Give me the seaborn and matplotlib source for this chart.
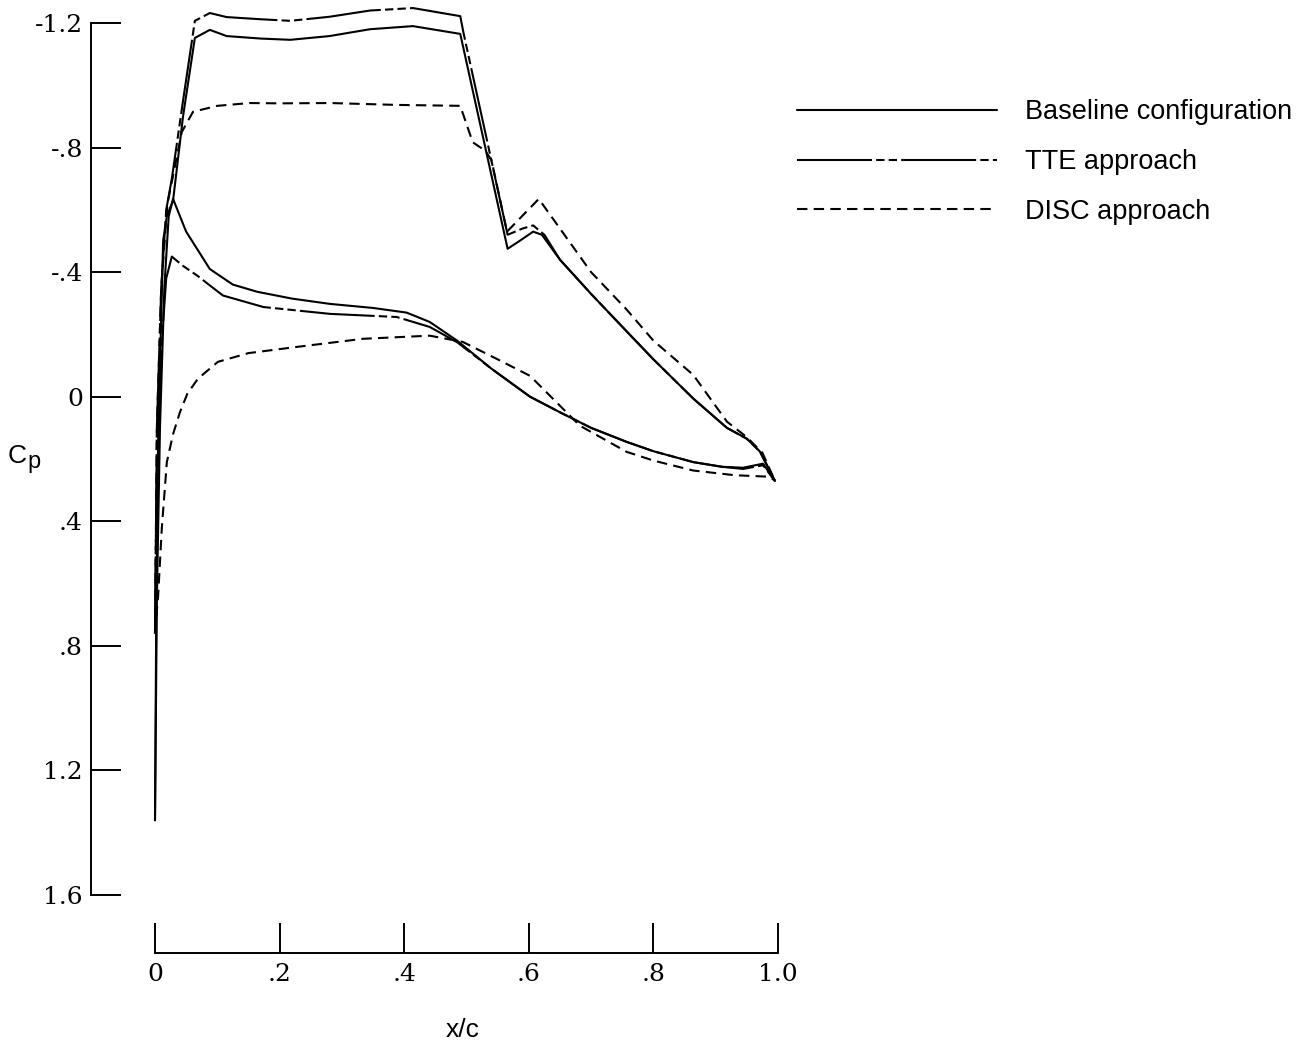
import numpy as np
import pandas as pd
import matplotlib
matplotlib.use("Agg")
import matplotlib.pyplot as plt
import seaborn as sns

# ---------------- data (x/c, Cp) ----------------
series_names = ["Baseline configuration", "TTE approach", "DISC approach"]

base_up_x = [0.0, 0.002, 0.005, 0.013, 0.019, 0.029, 0.045, 0.064, 0.088, 0.115, 0.17, 0.217,
             0.28, 0.345, 0.414, 0.49, 0.566, 0.585, 0.607, 0.621, 0.65, 0.70, 0.757, 0.80,
             0.864, 0.918, 0.95, 0.971, 0.995]
base_up_cp = [1.36, 0.70, 0.15, -0.50, -0.58, -0.63, -0.90, -1.152, -1.178, -1.158, -1.150, -1.146,
              -1.158, -1.18, -1.19, -1.165, -0.475, -0.50, -0.53, -0.52, -0.44, -0.33, -0.21, -0.12,
              0.006, 0.10, 0.135, 0.176, 0.27]

base_lo_x = [0.0, 0.003, 0.008, 0.015, 0.022, 0.029, 0.05, 0.088, 0.125, 0.164, 0.22, 0.281,
             0.35, 0.404, 0.441, 0.485, 0.54, 0.602, 0.65, 0.70, 0.757, 0.80, 0.864, 0.91,
             0.944, 0.976, 0.995]
base_lo_cp = [1.36, 0.65, 0.10, -0.35, -0.58, -0.635, -0.53, -0.41, -0.36, -0.337, -0.315, -0.298,
              -0.285, -0.27, -0.24, -0.18, -0.09, 0.00, 0.05, 0.10, 0.145, 0.175, 0.21, 0.225,
              0.228, 0.215, 0.27]

tte_up_x = [0.0, 0.003, 0.010, 0.018, 0.027, 0.045, 0.064, 0.088, 0.115, 0.17, 0.217, 0.28,
            0.345, 0.414, 0.49, 0.495, 0.566, 0.59, 0.607, 0.625, 0.65, 0.70, 0.757, 0.80,
            0.864, 0.918, 0.95, 0.971, 0.995]
tte_up_cp = [0.76, 0.10, -0.35, -0.60, -0.70, -0.95, -1.207, -1.232, -1.219, -1.212, -1.207, -1.22,
             -1.24, -1.248, -1.222, -1.17, -0.52, -0.54, -0.55, -0.52, -0.44, -0.33, -0.21, -0.12,
             0.006, 0.10, 0.135, 0.176, 0.27]

tte_lo_x = [0.0, 0.003, 0.010, 0.018, 0.027, 0.045, 0.067, 0.109, 0.174, 0.281, 0.388, 0.441,
            0.485, 0.54, 0.602, 0.65, 0.70, 0.757, 0.80, 0.864, 0.91, 0.944, 0.976, 0.995]
tte_lo_cp = [0.76, 0.25, -0.15, -0.38, -0.45, -0.42, -0.39, -0.325, -0.288, -0.266, -0.256, -0.224,
             -0.175, -0.09, 0.00, 0.05, 0.10, 0.145, 0.175, 0.21, 0.225, 0.232, 0.22, 0.27]

disc_up_x = [0.0, 0.003, 0.010, 0.020, 0.030, 0.043, 0.061, 0.10, 0.152, 0.20, 0.281, 0.388,
             0.49, 0.51, 0.53, 0.54, 0.565, 0.616, 0.65, 0.70, 0.757, 0.80, 0.864, 0.918,
             0.95, 0.975, 0.995]
disc_up_cp = [0.76, 0.10, -0.35, -0.62, -0.72, -0.85, -0.915, -0.934, -0.943, -0.942, -0.943, -0.937,
              -0.934, -0.817, -0.79, -0.76, -0.53, -0.635, -0.54, -0.40, -0.28, -0.18, -0.07, 0.08,
              0.13, 0.18, 0.27]

disc_lo_x = [0.0, 0.005, 0.011, 0.019, 0.029, 0.040, 0.052, 0.069, 0.101, 0.15, 0.228, 0.334,
             0.441, 0.494, 0.55, 0.602, 0.682, 0.757, 0.80, 0.864, 0.93, 0.987, 0.995]
disc_lo_cp = [0.76, 0.64, 0.42, 0.21, 0.12, 0.05, -0.01, -0.058, -0.112, -0.14, -0.16, -0.186,
              -0.196, -0.176, -0.12, -0.067, 0.093, 0.177, 0.205, 0.237, 0.252, 0.257, 0.27]

y_ticks = [-1.2, -0.8, -0.4, 0.0, 0.4, 0.8, 1.2, 1.6]
y_tick_labels = ["-1.2", "-.8", "-.4", "0", ".4", ".8", "1.2", "1.6"]
x_ticks = [0.0, 0.2, 0.4, 0.6, 0.8, 1.0]
x_tick_labels = ["0", ".2", ".4", ".6", ".8", "1.0"]

# ---------------- build long table ----------------
frames = []
for name, surf, xs, cps in [
    (series_names[0], "upper", base_up_x, base_up_cp),
    (series_names[0], "lower", base_lo_x, base_lo_cp),
    (series_names[1], "upper", tte_up_x, tte_up_cp),
    (series_names[1], "lower", tte_lo_x, tte_lo_cp),
    (series_names[2], "upper", disc_up_x, disc_up_cp),
    (series_names[2], "lower", disc_lo_x, disc_lo_cp),
]:
    frames.append(pd.DataFrame({"x": xs, "Cp": cps, "series": name, "surface": surf}))
df = pd.concat(frames, ignore_index=True)

# ---------------- style ----------------
sns.set_style("white")
plt.rcParams["font.family"] = ["Liberation Sans", "DejaVu Sans"]
plt.rcParams["text.color"] = "black"

W, H = 1310, 1046
fig = plt.figure(figsize=(W / 100, H / 100), dpi=100)
ax = fig.add_axes([155 / W, 1 - 895 / H, (778 - 155) / W, (895 - 23) / H])

dash_map = {
    series_names[0]: "",
    series_names[1]: (36, 2, 4, 2, 4, 2),
    series_names[2]: (5, 3),
}

sns.lineplot(data=df, x="x", y="Cp", style="series", units="surface",
             style_order=series_names, dashes=dash_map, estimator=None, sort=False,
             color="black", linewidth=1.5, ax=ax, legend=True, clip_on=False)

ax.set_xlim(0, 1)
ax.set_ylim(1.6, -1.2)

for s in ["top", "right"]:
    ax.spines[s].set_visible(False)
ax.spines["left"].set_position(("outward", 46))
ax.spines["left"].set_bounds(-1.2, 1.6)
ax.spines["bottom"].set_position(("outward", 41.8))
ax.spines["bottom"].set_bounds(0, 1)
for s in ["left", "bottom"]:
    ax.spines[s].set_linewidth(1.4)
    ax.spines[s].set_color("black")

ax.set_yticks(y_ticks)
ax.set_yticklabels(y_tick_labels, family="DejaVu Serif", fontsize=18)
ax.set_xticks(x_ticks)
ax.set_xticklabels(x_tick_labels, family="DejaVu Serif", fontsize=18)
ax.tick_params(axis="both", direction="in", length=21.6, width=1.4, color="black",
               labelcolor="black")
ax.tick_params(axis="y", pad=6, left=True)
ax.tick_params(axis="x", pad=7, bottom=True)
ax.set_xlabel("")
ax.set_ylabel("")

# axis titles
fig.text(8 / W, 1 - 463 / H, "C", fontsize=19, ha="left", va="baseline", color="black")
fig.text(27 / W, 1 - 468 / H, "p", fontsize=17, ha="left", va="baseline", color="black")
fig.text(463 / W, 1 - 1030 / H, "x/c", fontsize=19, ha="center", va="center",
         color="black")

# legend
handles, labels = ax.get_legend_handles_labels()
if ax.get_legend() is not None:
    ax.get_legend().remove()
leg = fig.legend(handles, labels, loc="center left",
                 bbox_to_anchor=(797 / W, 1 - 162 / H), frameon=False,
                 fontsize=19.5, handlelength=7.38, handletextpad=1.03,
                 labelspacing=0.88, borderpad=0, borderaxespad=0)
for ln in leg.get_lines():
    ln.set_color("black")
    ln.set_linewidth(1.5)
for t in leg.get_texts():
    t.set_color("black")

fig.savefig("out.png", dpi=100)
